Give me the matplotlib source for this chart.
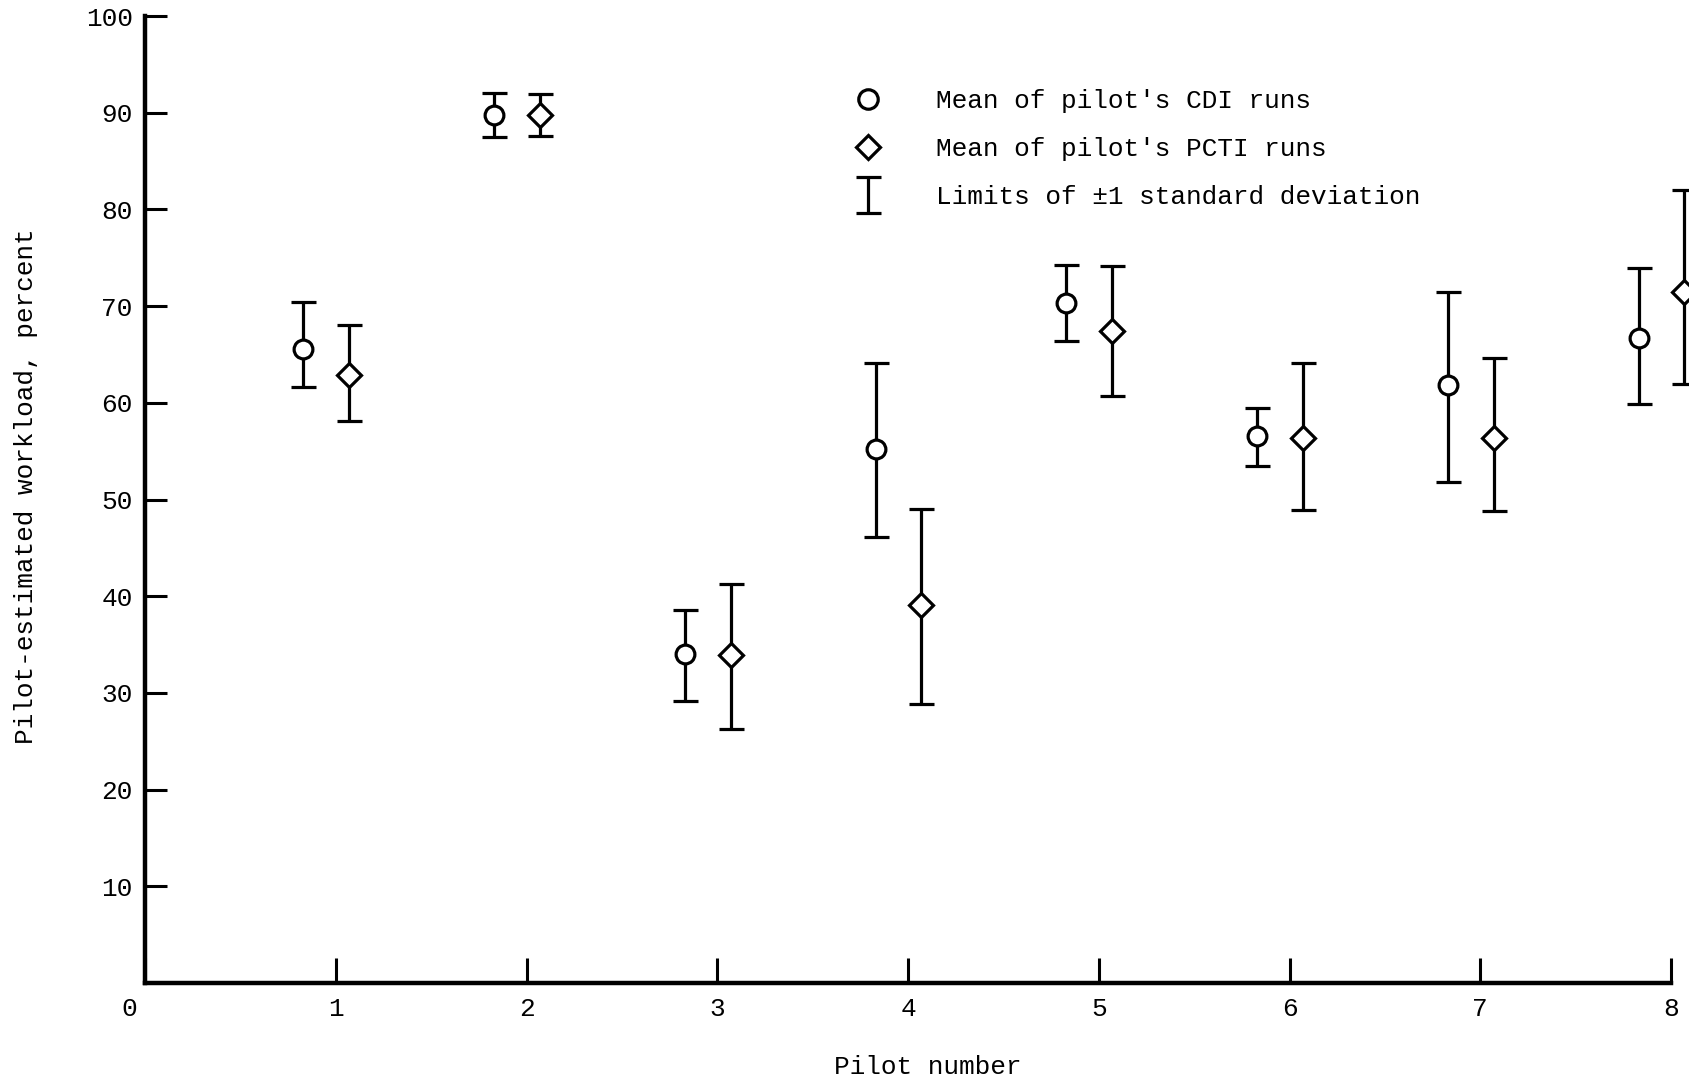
import numpy as np
import matplotlib
matplotlib.use("Agg")
import matplotlib.pyplot as plt
from matplotlib.lines import Line2D
from matplotlib.legend_handler import HandlerErrorbar
from matplotlib.container import ErrorbarContainer
import matplotlib.transforms as mtransforms

# ---- data ----
pilots = np.array([1, 2, 3, 4, 5, 6, 7, 8])
cdi_mean = [65.6, 89.8, 34.0, 55.2, 70.3, 56.6, 61.8, 66.7]
cdi_low = [61.6, 87.5, 29.2, 46.1, 66.4, 53.5, 51.8, 59.9]
cdi_high = [70.4, 92.0, 38.6, 64.1, 74.2, 59.5, 71.5, 73.9]
pcti_mean = [62.9, 89.8, 33.9, 39.1, 67.4, 56.4, 56.4, 71.5]
pcti_low = [58.1, 87.6, 26.3, 28.9, 60.7, 48.9, 48.8, 61.9]
pcti_high = [68.0, 91.9, 41.3, 49.0, 74.1, 64.1, 64.6, 82.0]
x_ticks = [0, 1, 2, 3, 4, 5, 6, 7, 8]
y_ticks = [10, 20, 30, 40, 50, 60, 70, 80, 90, 100]

FONT = "Liberation Mono"
FS = 18.8
LW = 2.3

plt.rcParams['font.family'] = [FONT, 'DejaVu Sans']

fig = plt.figure(figsize=(16.89, 10.79), dpi=100)
W, H = 1689, 1079
left, right, bottom, top = 145 / W, 1671 / W, 1 - 983 / H, 1 - 16 / H
ax = fig.add_axes([left, bottom, right - left, top - bottom])

cdi_x = pilots - 0.17
pcti_x = pilots + 0.07
cm = np.array(cdi_mean); pm = np.array(pcti_mean)
cdi_err = [cm - np.array(cdi_low), np.array(cdi_high) - cm]
pcti_err = [pm - np.array(pcti_low), np.array(pcti_high) - pm]

eb_kw = dict(fmt='none', ecolor='black', elinewidth=LW, capsize=9,
             capthick=LW, clip_on=False, zorder=2)
eb1 = ax.errorbar(cdi_x, cm, yerr=cdi_err, **eb_kw)
eb2 = ax.errorbar(pcti_x, pm, yerr=pcti_err, **eb_kw)
for eb in (eb1, eb2):
    for a in list(eb.lines[1]) + list(eb.lines[2]):
        a.set_clip_on(False)

ax.plot(cdi_x, cm, linestyle='none', marker='o', markersize=13.5,
        markerfacecolor='white', markeredgecolor='black',
        markeredgewidth=LW, zorder=3, clip_on=False)
ax.plot(pcti_x, pm, linestyle='none', marker='D', markersize=12.5,
        markerfacecolor='white', markeredgecolor='black',
        markeredgewidth=LW, zorder=3, clip_on=False)

ax.set_xlim(0, 8)
ax.set_ylim(0, 100)
for s in ('top', 'right'):
    ax.spines[s].set_visible(False)
for s in ('left', 'bottom'):
    ax.spines[s].set_linewidth(3.2)
    ax.spines[s].set_capstyle('projecting')

ax.set_xticks(x_ticks)
ax.set_xticklabels([str(v) for v in x_ticks])
ax.set_yticks(y_ticks)
ax.set_yticklabels([str(v) for v in y_ticks])
ax.tick_params(axis='x', direction='in', length=18, width=2.2, pad=10,
               labelsize=FS)
ax.tick_params(axis='y', direction='in', length=16, width=2.2, pad=9,
               labelsize=FS)
# shift the "0" label slightly to the left, as in the reference
lab0 = ax.get_xticklabels()[0]
lab0.set_transform(lab0.get_transform() +
                   mtransforms.ScaledTranslation(-16 / 100, 0, fig.dpi_scale_trans))

ax.set_ylabel("Pilot-estimated workload, percent", fontsize=FS)
ax.yaxis.set_label_coords((38 - 145) / 1526, (983 - 486) / 967)
ax.set_xlabel("Pilot number", fontsize=FS)
ax.xaxis.set_label_coords((928 - 145) / 1526, (983 - 1055) / 967)

# ---- legend ----
h_cdi = Line2D([], [], linestyle='none', marker='o', markersize=14,
               markerfacecolor='white', markeredgecolor='black',
               markeredgewidth=LW)
h_pcti = Line2D([], [], linestyle='none', marker='D', markersize=12.5,
                markerfacecolor='white', markeredgecolor='black',
                markeredgewidth=LW)
leg = fig.legend([h_cdi, h_pcti, eb1],
                 ["Mean of pilot's CDI runs", "Mean of pilot's PCTI runs",
                  "Limits of \u00b11 standard deviation"],
                 loc='upper left', bbox_to_anchor=(855 / W, 1 - 89 / H),
                 frameon=False, fontsize=FS, handlelength=1.0,
                 handletextpad=2.1, labelspacing=0.92, borderpad=0,
                 borderaxespad=0, numpoints=1,
                 handler_map={ErrorbarContainer: HandlerErrorbar(xerr_size=0.5, yerr_size=0.7)})

fig.savefig("out.png", dpi=100, facecolor='white')
